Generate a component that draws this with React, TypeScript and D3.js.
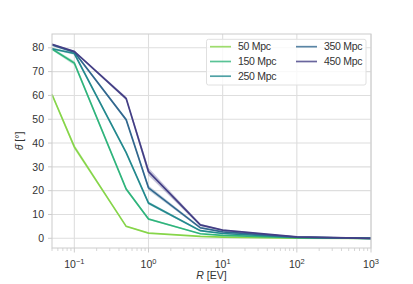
import React from "react";
import * as d3 from "d3";

const rValues = [0.05, 0.1, 0.5, 1, 5, 10, 100, 1000];
const seriesNames = ["50 Mpc", "150 Mpc", "250 Mpc", "350 Mpc", "450 Mpc"];
const theta50 = [60.4, 38.4, 5.0, 2.2, 0.8, 0.5, 0.1, 0.0];
const theta150 = [79.5, 73.6, 20.7, 8.1, 1.9, 1.2, 0.3, 0.0];
const theta250 = [79.6, 77.6, 36.0, 14.8, 3.2, 2.0, 0.4, 0.0];
const theta350 = [81.2, 78.2, 49.8, 21.2, 4.4, 2.7, 0.5, 0.0];
const theta450 = [81.5, 78.5, 58.7, 28.0, 5.6, 3.4, 0.6, 0.0];
const spread50 = [0.6, 1.0, 0.3, 0.2, 0.1, 0.1, 0.05, 0.0];
const spread150 = [0.5, 0.9, 0.6, 0.4, 0.2, 0.1, 0.05, 0.0];
const spread250 = [0.4, 0.5, 0.6, 0.6, 0.3, 0.2, 0.05, 0.0];
const spread350 = [0.3, 0.4, 0.6, 1.0, 0.4, 0.2, 0.05, 0.0];
const spread450 = [0.3, 0.4, 0.7, 1.6, 0.5, 0.3, 0.05, 0.0];
const seriesValues = [theta50, theta150, theta250, theta350, theta450];
const seriesSpread = [spread50, spread150, spread250, spread350, spread450];
const viridisPos = [0.82, 0.65, 0.47, 0.33, 0.18];
const yTicks = [0, 10, 20, 30, 40, 50, 60, 70, 80];
const xMajor = [0.1, 1, 10, 100, 1000];
const xMajorExp = ["\u22121", "0", "1", "2", "3"];

const W = 413, H = 284;
const L = 52, R = 371, T = 34, B = 248;
const FONT = "'Liberation Sans', Arial, sans-serif";

export default function App() {
  const x = d3.scaleLog().domain([0.05, 1000]).range([L, R]);
  const y = d3.scaleLinear().domain([-4.08, 85.8]).range([B, T]);
  const line = d3.line<number>().x((_, i) => x(rValues[i])).y((d) => y(d));
  const minor: number[] = [];
  for (let e = -2; e <= 2; e++) {
    for (let m = 2; m <= 9; m++) {
      const v = m * Math.pow(10, e);
      if (v >= 0.05 && v <= 1000) minor.push(v);
    }
  }
  const colors = viridisPos.map((p) => d3.interpolateViridis(p));
  const legendPos = [
    [210, 46.7], [210, 61.5], [210, 76.2], [296, 46.7], [296, 61.5],
  ];
  return (
    <svg width={W} height={H} style={{ position: "absolute", left: 0, top: 0, background: "#fff" }} fontFamily={FONT}>
      <rect x={0} y={0} width={W} height={H} fill="#fff" />
      {yTicks.map((t) => (
        <line key={"gy" + t} x1={L} x2={R} y1={y(t)} y2={y(t)} stroke="#dedede" strokeWidth={1.1} />
      ))}
      {xMajor.map((t) => (
        <line key={"gx" + t} x1={x(t)} x2={x(t)} y1={T} y2={B} stroke="#dedede" strokeWidth={1.1} />
      ))}
      {seriesValues.map((vals, si) => {
        const sp = seriesSpread[si];
        const area = d3
          .area<number>()
          .x((_, i) => x(rValues[i]))
          .y0((d, i) => y(d - sp[i]))
          .y1((d, i) => y(d + sp[i]));
        return <path key={"a" + si} d={area(vals) || ""} fill={colors[si]} fillOpacity={0.3} stroke="none" />;
      })}
      {seriesValues.map((vals, si) => (
        <path key={"l" + si} d={line(vals) || ""} fill="none" stroke={colors[si]} strokeWidth={1.7} strokeLinejoin="miter" />
      ))}
      <rect x={L} y={T} width={R - L} height={B - T} fill="none" stroke="#cccccc" strokeWidth={1} />
      {yTicks.map((t) => (
        <g key={"ty" + t}>
          <line x1={L - 4} x2={L} y1={y(t)} y2={y(t)} stroke="#cccccc" strokeWidth={1} />
          <text x={L - 8} y={y(t)} dy="0.35em" textAnchor="end" fontSize={10.5} fill="#333">{t}</text>
        </g>
      ))}
      {minor.map((t) => (
        <line key={"mx" + t} x1={x(t)} x2={x(t)} y1={B} y2={B + 3} stroke="#cccccc" strokeWidth={0.8} />
      ))}
      {xMajor.map((t, i) => (
        <g key={"tx" + t}>
          <line x1={x(t)} x2={x(t)} y1={B} y2={B + 4.5} stroke="#cccccc" strokeWidth={1} />
          <text x={x(t)} y={B + 20} textAnchor="middle" fontSize={10.5} fill="#333">
            10<tspan dy={-4.5} fontSize={7.5}>{xMajorExp[i]}</tspan>
          </text>
        </g>
      ))}
      <text x={(L + R) / 2} y={B + 31} textAnchor="middle" fontSize={10.5} fill="#333">
        <tspan fontStyle="italic">R</tspan> [EV]
      </text>
      <text transform={`translate(${23},${(T + B) / 2}) rotate(-90)`} textAnchor="middle" fontSize={10.5} fill="#333">
        <tspan fontStyle="italic">θ̄</tspan> [°]
      </text>
      <rect x={206.5} y={39.3} width={159.5} height={45.7} fill="#fff" fillOpacity={0.8} stroke="#e0e0e0" strokeWidth={1} rx={2} />
      {seriesNames.map((n, i) => (
        <g key={"lg" + i}>
          <line x1={legendPos[i][0]} x2={legendPos[i][0] + 21} y1={legendPos[i][1]} y2={legendPos[i][1]} stroke={colors[i]} strokeWidth={1.7} strokeOpacity={0.8} />
          <text x={legendPos[i][0] + 28} y={legendPos[i][1]} dy="0.35em" fontSize={10.5} fill="#333" letterSpacing={-0.3}>{n}</text>
        </g>
      ))}
    </svg>
  );
}
